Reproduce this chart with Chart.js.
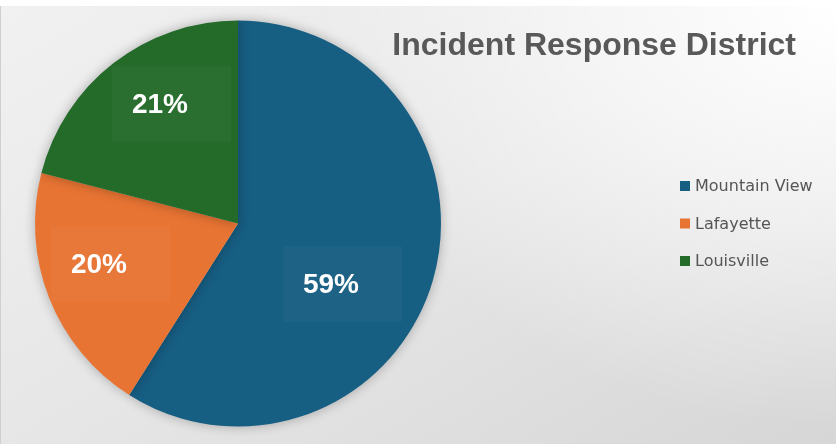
<!DOCTYPE html>
<html>
<head>
<meta charset="utf-8">
<script src="https://cdn.jsdelivr.net/npm/chart.js@4.4.1/dist/chart.umd.min.js"></script>
<style>
  html, body { margin: 0; padding: 0; background: #fff; }
  #wrap { position: relative; width: 836px; height: 444px; overflow: hidden; }
  #bg {
    position: absolute; left: 0; top: 6px; width: 835px; height: 438px;
    border-left: 1px solid #cfcfcf;
    background:
      radial-gradient(ellipse 520px 420px at 100% 0%, rgba(255,255,255,1) 0%, rgba(255,255,255,0.6) 45%, rgba(255,255,255,0) 100%),
      linear-gradient(150deg, #f1f1f1 0%, #e6e6e6 50%, #d6d6d6 100%);
  }
  #graphicPie { position: absolute; left: 0; top: 0; }
</style>
</head>
<body>
<div id="wrap">
  <div id="bg"></div>
  <canvas id="graphicPie" width="836" height="444"></canvas>
</div>
<script>
const titulo = "Incident Response District";
const distritos = ["Mountain View", "Lafayette", "Louisville"];
const incidentes = [59, 20, 21];
const cores = ["rgb(23, 94, 131)", "rgb(232, 116, 51)", "rgb(36, 107, 42)"];

// where each percent label sits, relative to the pie centre
const posLabels = [[93, 59], [-139, 39], [-78, -121]];

const graphicPie = document.getElementById("graphicPie");

const sombra = {
  id: "sombra",
  beforeDatasetsDraw(chart) {
    const ctx = chart.ctx;
    ctx.save();
    ctx.shadowColor = "rgba(0, 0, 0, 0.28)";
    ctx.shadowBlur = 12;
  },
  afterDatasetsDraw(chart) {
    chart.ctx.restore();
  },
};

const textos = {
  id: "textos",
  afterDraw(chart) {
    const ctx = chart.ctx;
    const arcs = chart.getDatasetMeta(0).data;
    const total = incidentes.reduce((a, b) => a + b, 0);

    // percent labels with their faint boxes
    ctx.save();
    arcs.forEach((arc, i) => {
      const x = arc.x + posLabels[i][0];
      const y = arc.y + posLabels[i][1];
      ctx.fillStyle = "rgba(255, 255, 255, 0.03)";
      ctx.fillRect(x - 48, y - 36, 119, 75);
      ctx.fillStyle = "#ffffff";
      ctx.font = "bold 28px 'Liberation Sans', Arial, sans-serif";
      ctx.textAlign = "center";
      ctx.textBaseline = "alphabetic";
      ctx.fillText(Math.round((incidentes[i] / total) * 100) + "%", x, y + 10);
    });

    // title
    ctx.fillStyle = "#595959";
    ctx.font = "bold 32px 'Liberation Sans', Arial, sans-serif";
    ctx.textAlign = "right";
    ctx.fillText(titulo, 796, 55);

    // legend
    ctx.font = "16px 'DejaVu Sans', sans-serif";
    ctx.textAlign = "left";
    ctx.textBaseline = "middle";
    distritos.forEach((nome, i) => {
      const y = 186 + i * 37.5;
      ctx.fillStyle = cores[i];
      ctx.fillRect(680, y - 5, 10, 10);
      ctx.fillStyle = "#555555";
      ctx.fillText(nome, 695, y + 1);
    });
    ctx.restore();
  },
};

new Chart(graphicPie, {
  type: "pie",
  data: {
    labels: distritos,
    datasets: [
      {
        data: incidentes,
        backgroundColor: cores,
        borderWidth: 0,
        hoverOffset: 0,
      },
    ],
  },
  options: {
    responsive: false,
    animation: false,
    layout: {
      padding: { left: 35, right: 395, top: 20, bottom: 17 },
    },
    plugins: {
      legend: { display: false },
      tooltip: { enabled: false },
    },
  },
  plugins: [sombra, textos],
});
</script>
</body>
</html>
